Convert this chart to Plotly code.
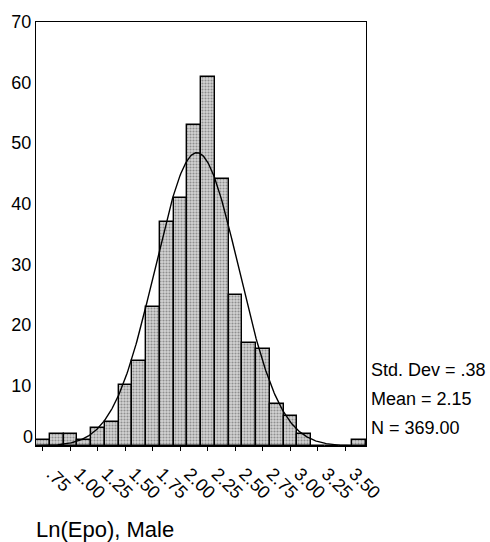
import numpy as np
import plotly.graph_objects as go

# ---- data ----
bin_mids = [0.750, 0.875, 1.000, 1.125, 1.250, 1.375, 1.500, 1.625,
            1.750, 1.875, 2.000, 2.125, 2.250, 2.375, 2.500, 2.625,
            2.750, 2.875, 3.000, 3.125, 3.250, 3.375, 3.500, 3.625]
counts = [1, 2, 2, 1, 3, 4, 10, 14, 23, 37, 41, 53,
          61, 44, 25, 17, 16, 7, 5, 2, 0, 0, 0, 1]
bin_width = 0.125
tick_vals = [0.75, 1.00, 1.25, 1.50, 1.75, 2.00, 2.25, 2.50, 2.75, 3.00, 3.25, 3.50]
tick_text = [".75", "1.00", "1.25", "1.50", "1.75", "2.00", "2.25", "2.50",
             "2.75", "3.00", "3.25", "3.50"]
y_ticks = [10, 20, 30, 40, 50, 60, 70]
std_dev = 0.38
mean = 2.15
n_obs = 369.00
stats_lines = ["Std. Dev = .38", "Mean = 2.15", "N = 369.00"]
title_text = "Ln(Epo), Male"

FONT = "Liberation Sans, Arial, sans-serif"

x_lo = bin_mids[0] - bin_width / 2
x_hi = bin_mids[-1] + bin_width / 2

# fitted normal curve from the stated mean / sd / N
xc = np.linspace(x_lo, x_hi, 400)
yc = n_obs * bin_width / (std_dev * np.sqrt(2 * np.pi)) * np.exp(-0.5 * ((xc - mean) / std_dev) ** 2)

fig = go.Figure()
fig.add_trace(go.Bar(
    x=bin_mids, y=counts, width=[bin_width] * len(bin_mids),
    marker=dict(color="#d0d0d0",
                line=dict(color="black", width=1.4),
                pattern=dict(shape=".", fgcolor="#4a4a4a", bgcolor="#d4d4d4",
                             size=3, solidity=0.4)),
    showlegend=False, hoverinfo="skip"))
fig.add_trace(go.Scatter(x=xc, y=yc, mode="lines",
                         line=dict(color="black", width=1.4),
                         showlegend=False, hoverinfo="skip"))

fig.update_layout(
    width=490, height=542,
    margin=dict(l=36, r=124, t=22, b=96),
    paper_bgcolor="white", plot_bgcolor="white",
    bargap=0,
    font=dict(family=FONT, size=18, color="black"),
    xaxis=dict(range=[x_lo, x_hi], tickvals=tick_vals, ticktext=tick_text,
               tickangle=45, ticks="outside", ticklen=4, tickwidth=1.4,
               tickcolor="black", showline=True, linecolor="black",
               linewidth=1.4, mirror=True, showgrid=False, zeroline=False,
               ticklabelshift=9, ticklabelstandoff=5,
               tickfont=dict(size=18)),
    yaxis=dict(range=[0, 70], tickvals=y_ticks, ticks="", showline=True,
               linecolor="black", linewidth=1.4, mirror=True, showgrid=False,
               zeroline=False, ticklabelstandoff=0, tickfont=dict(size=18)),
)

# "0" label sits slightly above the baseline in the reference
fig.add_annotation(x=0, xref="paper", y=1.5, yref="y", text="0",
                   showarrow=False, xanchor="right", yanchor="middle",
                   xshift=-1, font=dict(size=18))

stat_y = [0.180, 0.112, 0.043]
for txt, yy in zip(stats_lines, stat_y):
    fig.add_annotation(x=1, xref="paper", y=yy, yref="paper", text=txt,
                       showarrow=False, xanchor="left", yanchor="middle",
                       xshift=3, font=dict(size=18))

fig.add_annotation(x=0, xref="paper", y=-0.196, yref="paper", text=title_text,
                   showarrow=False, xanchor="left", yanchor="middle",
                   xshift=-2, font=dict(size=22))

fig.write_html("out.html")
